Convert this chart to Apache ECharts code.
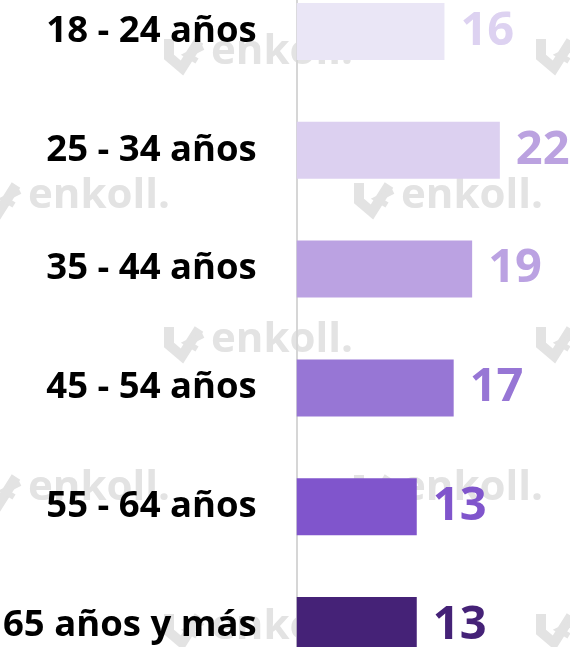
<!DOCTYPE html>
<html>
<head>
<meta charset="utf-8">
<script src="https://cdn.jsdelivr.net/npm/echarts@6/dist/echarts.min.js"></script>
<style>
html,body{margin:0;padding:0;background:#fff;overflow:hidden;width:570px;height:647px;}
#main{position:absolute;left:0;top:-28px;width:570px;height:713px;}
</style>
</head>
<body>
<div id="main"></div>
<script>
const categories = ['18 - 24 años', '25 - 34 años', '35 - 44 años', '45 - 54 años', '55 - 64 años', '65 años y más'];
const values = [16, 22, 19, 17, 13, 13];
const barColors = ['#EAE6F6', '#DCD0F0', '#BBA2E2', '#9776D5', '#8055CC', '#452277'];
const labelColors = ['#DDD2F1', '#BBA2E0', '#BBA2E2', '#9776D5', '#8055CC', '#452277'];

const FONT = '"Open Sans", Lato, sans-serif';
const WM = '#e3e3e3';
const SHIFT = 28; // canvas is offset upward by this many px

// watermark tiles (decorative), in page coordinates
const wmSpots = [
  [163, 37], [535, 37],
  [-20, 181], [353, 181],
  [163, 325], [535, 325],
  [-20, 473], [353, 473],
  [163, 612], [535, 612]
];
const graphics = [];
wmSpots.forEach(function (p) {
  const x = p[0], y = p[1] + SHIFT;
  graphics.push({
    type: 'polyline', x: x, y: y, z: -1,
    shape: { points: [[6, 2], [6, 20], [19, 31], [36, 4]] },
    style: { stroke: WM, lineWidth: 10, fill: null, lineJoin: 'miter' }
  });
  graphics.push({
    type: 'polyline', x: x, y: y, z: -1,
    shape: { points: [[40, 10], [24, 18], [34, 24]] },
    style: { stroke: WM, lineWidth: 6, fill: null }
  });
  graphics.push({
    type: 'text', x: x + 48, y: y + 15, z: -1,
    style: { text: 'enkoll.', font: 'bold 42px ' + FONT, fill: WM, verticalAlign: 'middle' }
  });
});

const chart = echarts.init(document.getElementById('main'), null, { renderer: 'canvas' });
chart.setOption({
  animation: false,
  backgroundColor: '#ffffff',
  graphic: graphics,
  grid: { left: 294, top: 0, width: 280, height: 713, containLabel: false },
  xAxis: { type: 'value', min: 0, max: 29.6, show: false },
  yAxis: {
    type: 'category',
    data: categories,
    inverse: true,
    axisLine: { show: true, lineStyle: { color: '#d6d6d6', width: 2 } },
    axisTick: { show: false },
    axisLabel: { margin: 40, color: '#000', fontSize: 36.5, fontWeight: 'bold', fontFamily: FONT },
    z: 1
  },
  series: [{
    type: 'bar',
    barWidth: 57,
    z: 2,
    data: values.map(function (v, i) {
      return {
        value: v,
        itemStyle: { color: barColors[i] },
        label: { color: labelColors[i] }
      };
    }),
    label: {
      show: true,
      position: 'right',
      distance: 16,
      fontSize: 47,
      fontWeight: 'bold',
      fontFamily: FONT
    }
  }]
});
</script>
</body>
</html>
